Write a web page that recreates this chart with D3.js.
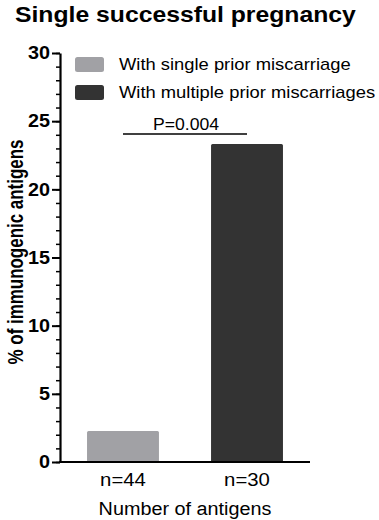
<!DOCTYPE html>
<html>
<head>
<meta charset="utf-8">
<script src="https://cdn.jsdelivr.net/npm/d3@7"></script>
<style>
  body { margin: 0; background: #fff; }
  text { font-family: "Liberation Sans", Arial, sans-serif; }
</style>
</head>
<body>
<svg id="chart"></svg>
<script>
const categories = ['n=44', 'n=30'];
const seriesNames = ['With single prior miscarriage', 'With multiple prior miscarriages'];
const values = [2.27, 23.33];
const colors = ['#a1a1a5', '#333333'];
const yTicks = [0, 5, 10, 15, 20, 25, 30];
const pLabel = 'P=0.004';

const fontFamily = '"Liberation Sans", Arial, sans-serif';
const [width, height] = [379, 520];
const margin = {top: 53, right: 69, bottom: 58, left: 60};
const stretch = 1.1; // the picture is a little wider than tall

// widen text horizontally
function widen(sel, k) {
  sel.each(function() {
    const w = this.getComputedTextLength();
    d3.select(this)
      .attr('textLength', w * k)
      .attr('lengthAdjust', 'spacingAndGlyphs');
  });
}

const svg = d3.select('#chart')
    .attr('width', width)
    .attr('height', height);

const xScale = d3.scaleBand()
    .domain(categories)
    .range([margin.left, width - margin.right])
    .paddingInner(0.42)
    .paddingOuter(0.218);

const yScale = d3.scaleLinear()
    .domain([0, 30])
    .range([height - margin.bottom, margin.top]);

// title
svg.append('text')
    .attr('x', 15)
    .attr('y', 22)
    .attr('font-size', 21.5)
    .attr('font-weight', 'bold')
    .text('Single successful pregnancy')
    .call(widen, 1.15);

// bars
svg.append('g')
  .selectAll('rect')
  .data(values)
  .enter()
  .append('rect')
  .attr('x', (d, i) => xScale(categories[i]))
  .attr('y', d => yScale(d))
  .attr('width', xScale.bandwidth())
  .attr('height', d => yScale(0) - yScale(d))
  .attr('rx', 1.5)
  .attr('fill', (d, i) => colors[i]);

// y axis minor ticks
const yMinor = d3.axisLeft(yScale)
    .tickValues(d3.range(0, 31, 1))
    .tickSize(4)
    .tickFormat('');

svg.append('g')
    .attr('transform', `translate(${margin.left},0)`)
    .call(yMinor)
    .call(g => g.select('.domain').remove())
    .call(g => g.selectAll('line').attr('stroke', '#000').attr('stroke-width', 1.5));

const yAxis = d3.axisLeft(yScale)
    .tickValues(yTicks)
    .tickSize(8)
    .tickPadding(2)
    .tickSizeOuter(0);

svg.append('g')
    .attr('transform', `translate(${margin.left},0)`)
    .call(yAxis)
    .call(g => g.select('.domain').attr('stroke-width', 2.2))
    .call(g => g.selectAll('line').attr('stroke-width', 2))
    .call(g => g.selectAll('text')
        .attr('font-size', 18)
        .attr('font-weight', 'bold')
        .attr('font-family', fontFamily)
        .attr('fill', '#000')
        .call(widen, stretch));

// x axis
const xAxis = d3.axisBottom(xScale)
    .tickSize(0)
    .tickPadding(11)
    .tickSizeOuter(0);

svg.append('g')
    .attr('transform', `translate(0,${yScale(0)})`)
    .call(xAxis)
    .call(g => g.select('.domain').attr('stroke-width', 2.2).attr('d', `M${margin.left - 1},0H${width - margin.right}`))
    .call(g => g.selectAll('text')
        .attr('font-size', 18.5)
        .attr('font-family', fontFamily)
        .attr('fill', '#000')
        .call(widen, stretch));

// axis titles
svg.append('text')
    .attr('x', 185)
    .attr('y', 515)
    .attr('text-anchor', 'middle')
    .attr('font-size', 18)
    .text('Number of antigens')
    .call(widen, stretch);

svg.append('text')
    .attr('transform', `translate(23,252) scale(${stretch},1) rotate(-90)`)
    .attr('text-anchor', 'middle')
    .attr('font-size', 20)
    .attr('font-weight', 'bold')
    .attr('textLength', 225)
    .attr('lengthAdjust', 'spacingAndGlyphs')
    .text('% of immunogenic antigens');

// legend
const legend = svg.append('g')
  .selectAll('g')
  .data(seriesNames)
  .enter()
  .append('g')
  .attr('transform', (d, i) => `translate(75,${57 + i * 28})`);

legend.append('rect')
    .attr('width', 29)
    .attr('height', 15)
    .attr('rx', 2.5)
    .attr('fill', (d, i) => colors[i]);

legend.append('text')
    .attr('x', 44)
    .attr('y', 12.5)
    .attr('font-size', 17)
    .text(d => d)
    .call(widen, 1.08);

// significance bracket
const x1 = xScale(categories[0]) + xScale.bandwidth() / 2;
const x2 = xScale(categories[1]) + xScale.bandwidth() / 2;
svg.append('line')
    .attr('x1', x1)
    .attr('x2', x2)
    .attr('y1', 134)
    .attr('y2', 134)
    .attr('stroke', '#000')
    .attr('stroke-width', 1.3);

svg.append('text')
    .attr('x', (x1 + x2) / 2 + 1)
    .attr('y', 130)
    .attr('text-anchor', 'middle')
    .attr('font-size', 16)
    .text(pLabel)
    .call(widen, stretch);
</script>
</body>
</html>
